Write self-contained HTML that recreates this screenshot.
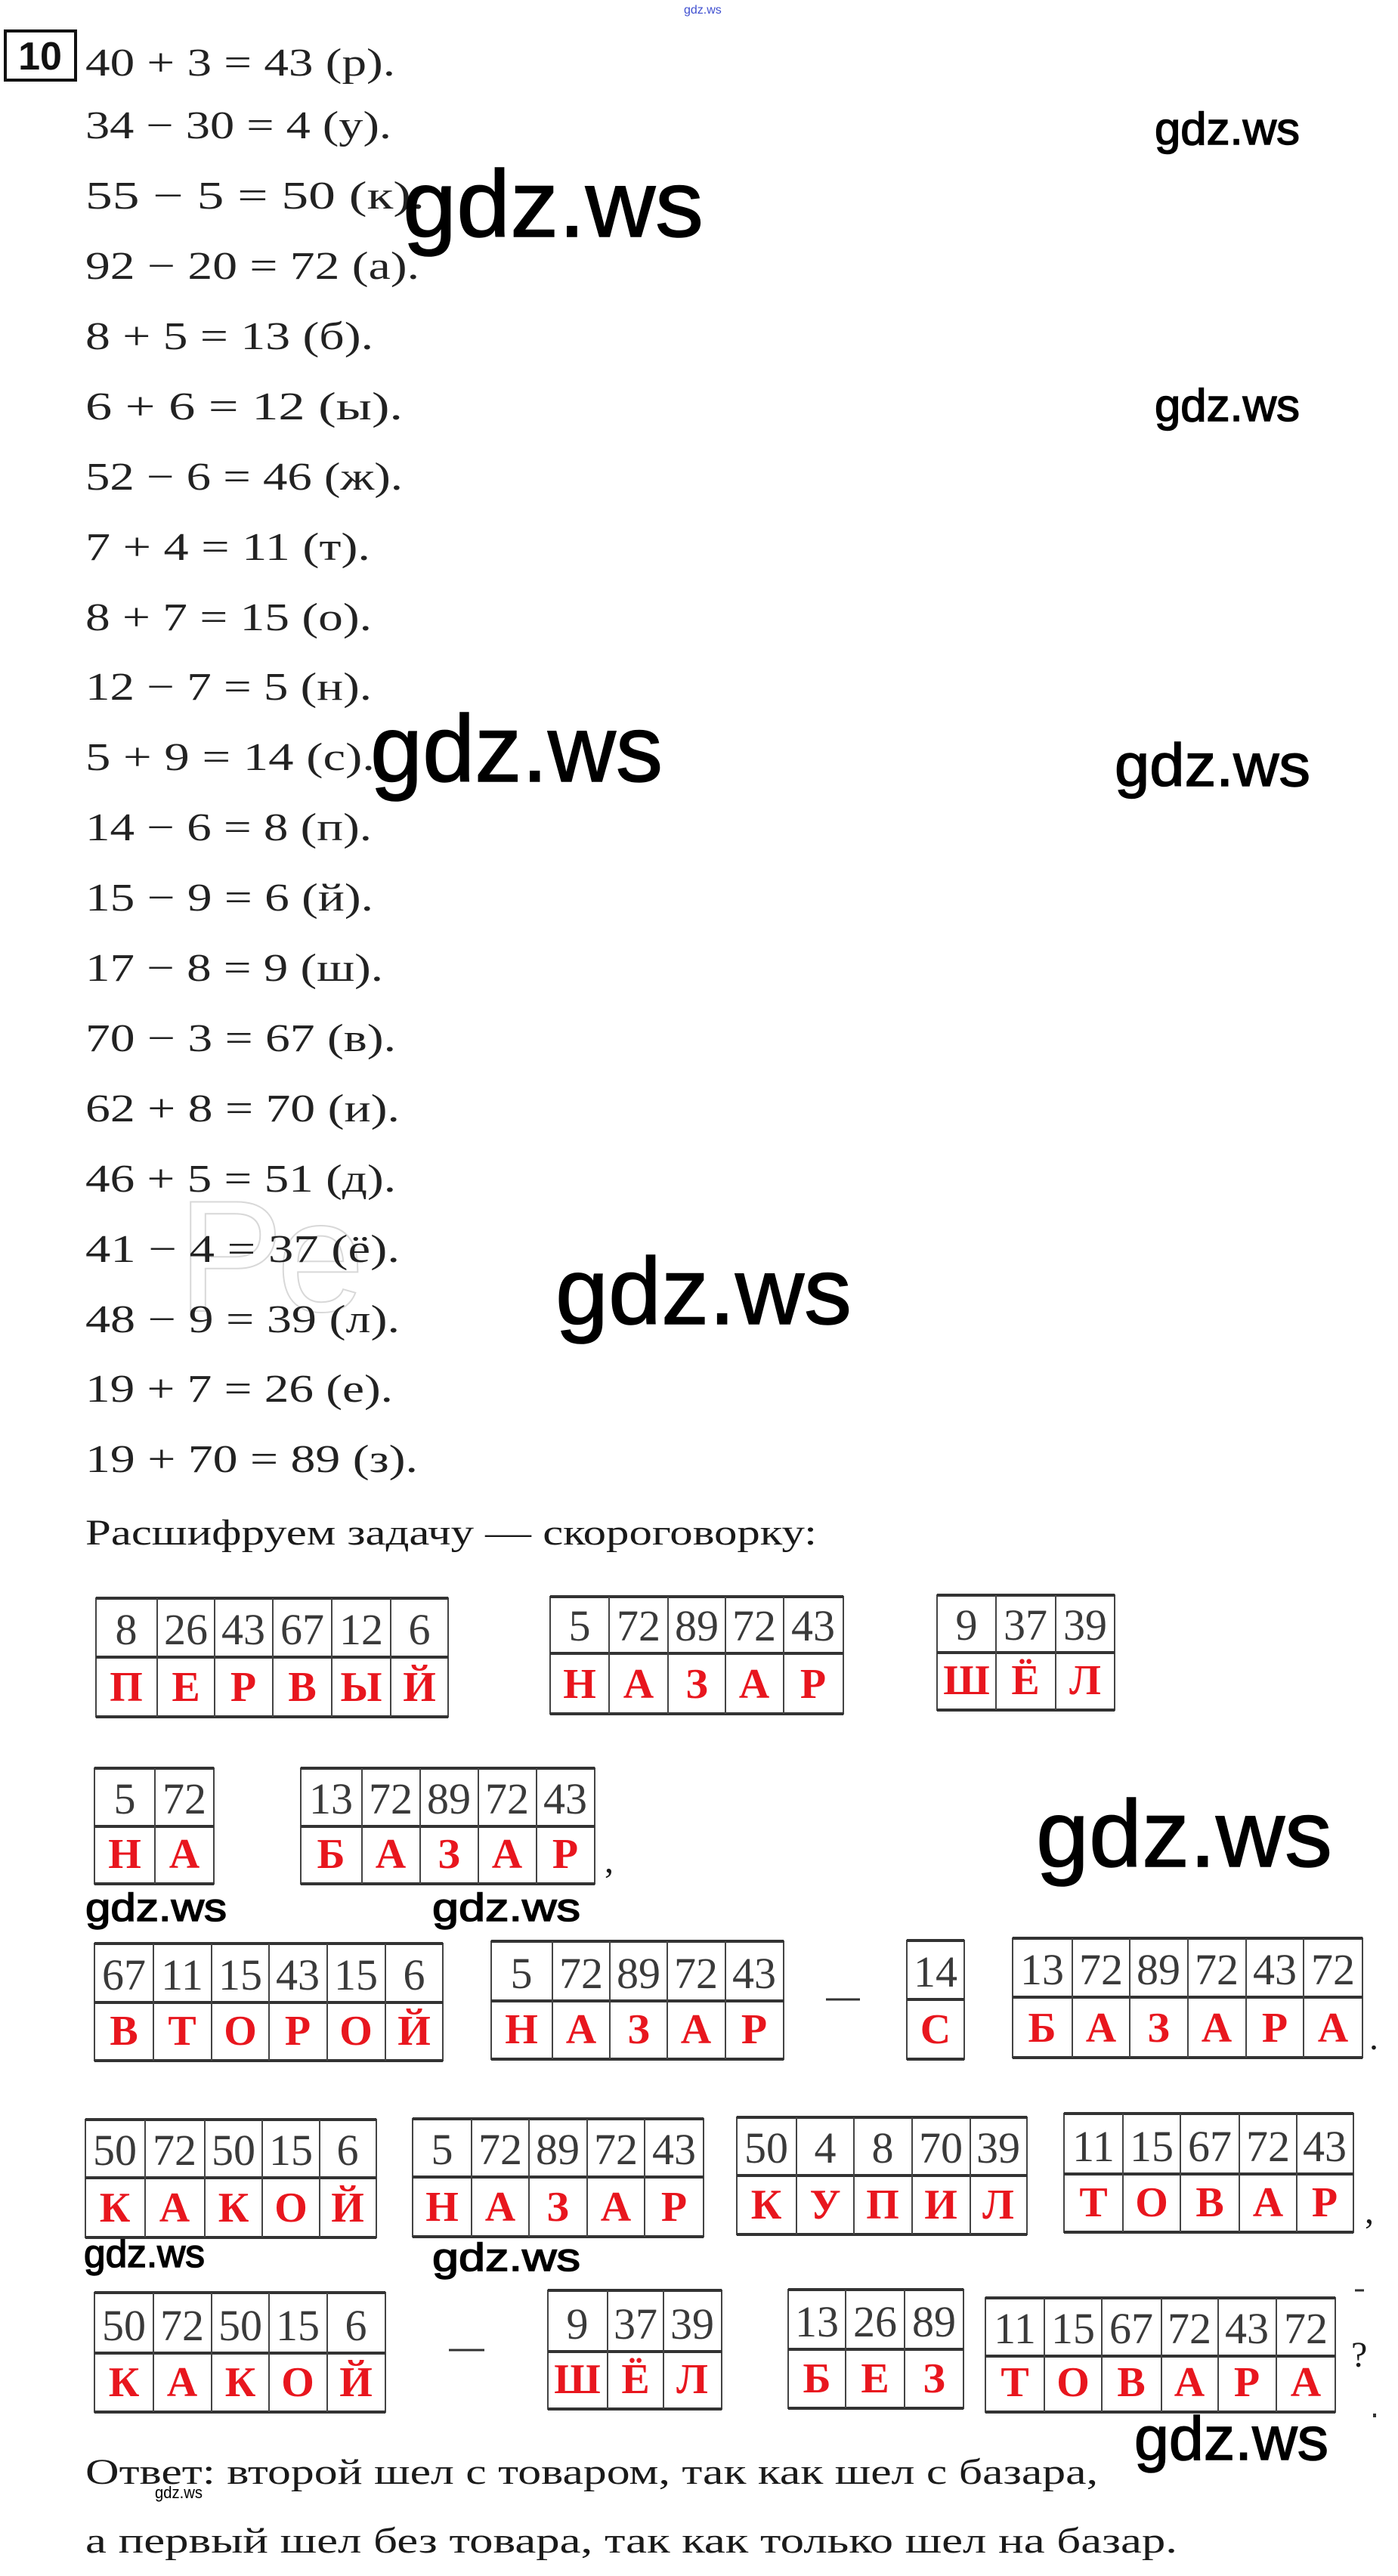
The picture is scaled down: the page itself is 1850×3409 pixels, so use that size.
<!DOCTYPE html>
<html><head><meta charset="utf-8"><style>
html,body{margin:0;padding:0;background:#fff}
svg{display:block}
.e{font-family:"Liberation Serif",serif;font-size:52px;fill:#222}
.s{font-family:"Liberation Serif",serif;font-size:48px;fill:#1a1a1a}
.w{font-family:"Liberation Sans",sans-serif;fill:#000;stroke:#000;stroke-width:1.5}
.n{font-family:"Liberation Serif",serif;font-size:58px;fill:#3a3a3a;text-anchor:middle}
.l{font-family:"Liberation Serif",serif;font-weight:bold;font-size:56px;fill:#e8161e;text-anchor:middle}
.h{stroke:#333;stroke-width:4}
.v{stroke:#444;stroke-width:2}
</style></head><body>
<svg width="1850" height="3409" viewBox="0 0 1850 3409" xmlns="http://www.w3.org/2000/svg">
<rect width="1850" height="3409" fill="#fff"/>
<text x="235" y="1735" font-family="Liberation Sans,sans-serif" font-size="210" fill="none" stroke="#d8d8d8" stroke-width="2">Ре</text>
<rect x="7" y="41" width="93" height="65" fill="none" stroke="#111" stroke-width="4"/>
<text x="53" y="92" text-anchor="middle" font-family="Liberation Sans,sans-serif" font-weight="bold" font-size="52" fill="#111">10</text>
<text class="e" x="113" y="100" textLength="410" lengthAdjust="spacingAndGlyphs">40 + 3 = 43 (р).</text>
<text class="e" x="113" y="183" textLength="405" lengthAdjust="spacingAndGlyphs">34 − 30 = 4 (у).</text>
<text class="e" x="113" y="276" textLength="449" lengthAdjust="spacingAndGlyphs">55 − 5 = 50 (к).</text>
<text class="e" x="113" y="369" textLength="442" lengthAdjust="spacingAndGlyphs">92 − 20 = 72 (а).</text>
<text class="e" x="113" y="462" textLength="381" lengthAdjust="spacingAndGlyphs">8 + 5 = 13 (б).</text>
<text class="e" x="113" y="555" textLength="420" lengthAdjust="spacingAndGlyphs">6 + 6 = 12 (ы).</text>
<text class="e" x="113" y="648" textLength="420" lengthAdjust="spacingAndGlyphs">52 − 6 = 46 (ж).</text>
<text class="e" x="113" y="741" textLength="377" lengthAdjust="spacingAndGlyphs">7 + 4 = 11 (т).</text>
<text class="e" x="113" y="834" textLength="379" lengthAdjust="spacingAndGlyphs">8 + 7 = 15 (о).</text>
<text class="e" x="113" y="926" textLength="379" lengthAdjust="spacingAndGlyphs">12 − 7 = 5 (н).</text>
<text class="e" x="113" y="1019" textLength="383" lengthAdjust="spacingAndGlyphs">5 + 9 = 14 (с).</text>
<text class="e" x="113" y="1112" textLength="379" lengthAdjust="spacingAndGlyphs">14 − 6 = 8 (п).</text>
<text class="e" x="113" y="1205" textLength="381" lengthAdjust="spacingAndGlyphs">15 − 9 = 6 (й).</text>
<text class="e" x="113" y="1298" textLength="394" lengthAdjust="spacingAndGlyphs">17 − 8 = 9 (ш).</text>
<text class="e" x="113" y="1391" textLength="411" lengthAdjust="spacingAndGlyphs">70 − 3 = 67 (в).</text>
<text class="e" x="113" y="1484" textLength="416" lengthAdjust="spacingAndGlyphs">62 + 8 = 70 (и).</text>
<text class="e" x="113" y="1577" textLength="411" lengthAdjust="spacingAndGlyphs">46 + 5 = 51 (д).</text>
<text class="e" x="113" y="1670" textLength="416" lengthAdjust="spacingAndGlyphs">41 − 4 = 37 (ё).</text>
<text class="e" x="113" y="1763" textLength="416" lengthAdjust="spacingAndGlyphs">48 − 9 = 39 (л).</text>
<text class="e" x="113" y="1855" textLength="407" lengthAdjust="spacingAndGlyphs">19 + 7 = 26 (е).</text>
<text class="e" x="113" y="1948" textLength="440" lengthAdjust="spacingAndGlyphs">19 + 70 = 89 (з).</text>
<text class="s" x="113" y="2044" textLength="968" lengthAdjust="spacingAndGlyphs">Расшифруем задачу — скороговорку:</text>
<text class="s" x="113" y="3287" textLength="1340" lengthAdjust="spacingAndGlyphs">Ответ: второй шел с товаром, так как шел с базара,</text>
<text class="s" x="113" y="3378" textLength="1445" lengthAdjust="spacingAndGlyphs">а первый шел без товара, так как только шел на базар.</text>

<text x="905" y="18" font-family="Liberation Sans,sans-serif" font-size="16" fill="#4050d0">gdz.ws</text>
<text class="w" x="533" y="313" font-size="125" stroke-width="3" textLength="398" lengthAdjust="spacingAndGlyphs">gdz.ws</text>
<text class="w" x="1528" y="191" font-size="60" textLength="192" lengthAdjust="spacingAndGlyphs">gdz.ws</text>
<text class="w" x="1528" y="557" font-size="60" textLength="192" lengthAdjust="spacingAndGlyphs">gdz.ws</text>
<text class="w" x="490" y="1034" font-size="125" stroke-width="3" textLength="387" lengthAdjust="spacingAndGlyphs">gdz.ws</text>
<text class="w" x="1475" y="1040" font-size="80" stroke-width="2" textLength="259" lengthAdjust="spacingAndGlyphs">gdz.ws</text>
<text class="w" x="735" y="1752" font-size="125" stroke-width="3" textLength="392" lengthAdjust="spacingAndGlyphs">gdz.ws</text>
<text class="w" x="1371" y="2470" font-size="125" stroke-width="3" textLength="392" lengthAdjust="spacingAndGlyphs">gdz.ws</text>
<text class="w" x="113" y="2542" font-size="52" textLength="187" lengthAdjust="spacingAndGlyphs">gdz.ws</text>
<text class="w" x="572" y="2542" font-size="52" textLength="196" lengthAdjust="spacingAndGlyphs">gdz.ws</text>
<text class="w" x="111" y="3000" font-size="52" textLength="160" lengthAdjust="spacingAndGlyphs">gdz.ws</text>
<text class="w" x="572" y="3005" font-size="52" textLength="196" lengthAdjust="spacingAndGlyphs">gdz.ws</text>
<text class="w" x="1501" y="3255" font-size="82" stroke-width="2" textLength="257" lengthAdjust="spacingAndGlyphs">gdz.ws</text>
<text x="205" y="3306" font-family="Liberation Sans,sans-serif" font-size="22" textLength="63" lengthAdjust="spacingAndGlyphs">gdz.ws</text>

<g><rect x="127" y="2115" width="466" height="157" fill="none" class="v"/>
<line class="h" x1="127" y1="2115" x2="593" y2="2115"/><line class="h" x1="127" y1="2193" x2="593" y2="2193"/><line class="h" x1="127" y1="2272" x2="593" y2="2272"/>
<line class="v" x1="208" y1="2115" x2="208" y2="2272"/><line class="v" x1="284" y1="2115" x2="284" y2="2272"/><line class="v" x1="361" y1="2115" x2="361" y2="2272"/><line class="v" x1="439" y1="2115" x2="439" y2="2272"/><line class="v" x1="517" y1="2115" x2="517" y2="2272"/>
<text class="n" x="167" y="2176">8</text><text class="n" x="246" y="2176">26</text><text class="n" x="322" y="2176">43</text><text class="n" x="400" y="2176">67</text><text class="n" x="478" y="2176">12</text><text class="n" x="555" y="2176">6</text>
<text class="l" x="167" y="2251">П</text><text class="l" x="246" y="2251">Е</text><text class="l" x="322" y="2251">Р</text><text class="l" x="400" y="2251">В</text><text class="l" x="478" y="2251">Ы</text><text class="l" x="555" y="2251">Й</text></g>
<g><rect x="728" y="2113" width="388" height="155" fill="none" class="v"/>
<line class="h" x1="728" y1="2113" x2="1116" y2="2113"/><line class="h" x1="728" y1="2188" x2="1116" y2="2188"/><line class="h" x1="728" y1="2268" x2="1116" y2="2268"/>
<line class="v" x1="806" y1="2113" x2="806" y2="2268"/><line class="v" x1="884" y1="2113" x2="884" y2="2268"/><line class="v" x1="960" y1="2113" x2="960" y2="2268"/><line class="v" x1="1037" y1="2113" x2="1037" y2="2268"/>
<text class="n" x="767" y="2171">5</text><text class="n" x="845" y="2171">72</text><text class="n" x="922" y="2171">89</text><text class="n" x="998" y="2171">72</text><text class="n" x="1076" y="2171">43</text>
<text class="l" x="767" y="2247">Н</text><text class="l" x="845" y="2247">А</text><text class="l" x="922" y="2247">З</text><text class="l" x="998" y="2247">А</text><text class="l" x="1076" y="2247">Р</text></g>
<g><rect x="1240" y="2111" width="235" height="152" fill="none" class="v"/>
<line class="h" x1="1240" y1="2111" x2="1475" y2="2111"/><line class="h" x1="1240" y1="2187" x2="1475" y2="2187"/><line class="h" x1="1240" y1="2263" x2="1475" y2="2263"/>
<line class="v" x1="1318" y1="2111" x2="1318" y2="2263"/><line class="v" x1="1397" y1="2111" x2="1397" y2="2263"/>
<text class="n" x="1279" y="2170">9</text><text class="n" x="1357" y="2170">37</text><text class="n" x="1436" y="2170">39</text>
<text class="l" x="1279" y="2242">Ш</text><text class="l" x="1357" y="2242">Ё</text><text class="l" x="1436" y="2242">Л</text></g>
<g><rect x="125" y="2340" width="158" height="153" fill="none" class="v"/>
<line class="h" x1="125" y1="2340" x2="283" y2="2340"/><line class="h" x1="125" y1="2417" x2="283" y2="2417"/><line class="h" x1="125" y1="2493" x2="283" y2="2493"/>
<line class="v" x1="205" y1="2340" x2="205" y2="2493"/>
<text class="n" x="165" y="2400">5</text><text class="n" x="244" y="2400">72</text>
<text class="l" x="165" y="2472">Н</text><text class="l" x="244" y="2472">А</text></g>
<g><rect x="398" y="2340" width="389" height="153" fill="none" class="v"/>
<line class="h" x1="398" y1="2340" x2="787" y2="2340"/><line class="h" x1="398" y1="2417" x2="787" y2="2417"/><line class="h" x1="398" y1="2493" x2="787" y2="2493"/>
<line class="v" x1="479" y1="2340" x2="479" y2="2493"/><line class="v" x1="556" y1="2340" x2="556" y2="2493"/><line class="v" x1="633" y1="2340" x2="633" y2="2493"/><line class="v" x1="710" y1="2340" x2="710" y2="2493"/>
<text class="n" x="438" y="2400">13</text><text class="n" x="517" y="2400">72</text><text class="n" x="594" y="2400">89</text><text class="n" x="671" y="2400">72</text><text class="n" x="748" y="2400">43</text>
<text class="l" x="438" y="2472">Б</text><text class="l" x="517" y="2472">А</text><text class="l" x="594" y="2472">З</text><text class="l" x="671" y="2472">А</text><text class="l" x="748" y="2472">Р</text></g>
<text class="s" x="800" y="2478" font-size="50">,</text>
<g><rect x="125" y="2572" width="461" height="155" fill="none" class="v"/>
<line class="h" x1="125" y1="2572" x2="586" y2="2572"/><line class="h" x1="125" y1="2650" x2="586" y2="2650"/><line class="h" x1="125" y1="2727" x2="586" y2="2727"/>
<line class="v" x1="203" y1="2572" x2="203" y2="2727"/><line class="v" x1="280" y1="2572" x2="280" y2="2727"/><line class="v" x1="356" y1="2572" x2="356" y2="2727"/><line class="v" x1="433" y1="2572" x2="433" y2="2727"/><line class="v" x1="510" y1="2572" x2="510" y2="2727"/>
<text class="n" x="164" y="2633">67</text><text class="n" x="241" y="2633">11</text><text class="n" x="318" y="2633">15</text><text class="n" x="394" y="2633">43</text><text class="n" x="471" y="2633">15</text><text class="n" x="548" y="2633">6</text>
<text class="l" x="164" y="2706">В</text><text class="l" x="241" y="2706">Т</text><text class="l" x="318" y="2706">О</text><text class="l" x="394" y="2706">Р</text><text class="l" x="471" y="2706">О</text><text class="l" x="548" y="2706">Й</text></g>
<g><rect x="650" y="2569" width="387" height="156" fill="none" class="v"/>
<line class="h" x1="650" y1="2569" x2="1037" y2="2569"/><line class="h" x1="650" y1="2648" x2="1037" y2="2648"/><line class="h" x1="650" y1="2725" x2="1037" y2="2725"/>
<line class="v" x1="731" y1="2569" x2="731" y2="2725"/><line class="v" x1="807" y1="2569" x2="807" y2="2725"/><line class="v" x1="883" y1="2569" x2="883" y2="2725"/><line class="v" x1="960" y1="2569" x2="960" y2="2725"/>
<text class="n" x="690" y="2631">5</text><text class="n" x="769" y="2631">72</text><text class="n" x="845" y="2631">89</text><text class="n" x="921" y="2631">72</text><text class="n" x="998" y="2631">43</text>
<text class="l" x="690" y="2704">Н</text><text class="l" x="769" y="2704">А</text><text class="l" x="845" y="2704">З</text><text class="l" x="921" y="2704">А</text><text class="l" x="998" y="2704">Р</text></g>
<line x1="1093" y1="2646" x2="1138" y2="2646" stroke="#333" stroke-width="3"/>
<g><rect x="1200" y="2568" width="76" height="157" fill="none" class="v"/>
<line class="h" x1="1200" y1="2568" x2="1276" y2="2568"/><line class="h" x1="1200" y1="2646" x2="1276" y2="2646"/><line class="h" x1="1200" y1="2725" x2="1276" y2="2725"/>
<text class="n" x="1238" y="2629">14</text><text class="l" x="1238" y="2704">С</text></g>
<g><rect x="1340" y="2565" width="463" height="158" fill="none" class="v"/>
<line class="h" x1="1340" y1="2565" x2="1803" y2="2565"/><line class="h" x1="1340" y1="2643" x2="1803" y2="2643"/><line class="h" x1="1340" y1="2723" x2="1803" y2="2723"/>
<line class="v" x1="1419" y1="2565" x2="1419" y2="2723"/><line class="v" x1="1495" y1="2565" x2="1495" y2="2723"/><line class="v" x1="1572" y1="2565" x2="1572" y2="2723"/><line class="v" x1="1649" y1="2565" x2="1649" y2="2723"/><line class="v" x1="1725" y1="2565" x2="1725" y2="2723"/>
<text class="n" x="1379" y="2626">13</text><text class="n" x="1457" y="2626">72</text><text class="n" x="1533" y="2626">89</text><text class="n" x="1610" y="2626">72</text><text class="n" x="1687" y="2626">43</text><text class="n" x="1764" y="2626">72</text>
<text class="l" x="1379" y="2702">Б</text><text class="l" x="1457" y="2702">А</text><text class="l" x="1533" y="2702">З</text><text class="l" x="1610" y="2702">А</text><text class="l" x="1687" y="2702">Р</text><text class="l" x="1764" y="2702">А</text></g>
<text class="s" x="1812" y="2712">.</text>
<g><rect x="113" y="2805" width="385" height="156" fill="none" class="v"/>
<line class="h" x1="113" y1="2805" x2="498" y2="2805"/><line class="h" x1="113" y1="2882" x2="498" y2="2882"/><line class="h" x1="113" y1="2961" x2="498" y2="2961"/>
<line class="v" x1="192" y1="2805" x2="192" y2="2961"/><line class="v" x1="271" y1="2805" x2="271" y2="2961"/><line class="v" x1="347" y1="2805" x2="347" y2="2961"/><line class="v" x1="423" y1="2805" x2="423" y2="2961"/>
<text class="n" x="152" y="2865">50</text><text class="n" x="231" y="2865">72</text><text class="n" x="309" y="2865">50</text><text class="n" x="385" y="2865">15</text><text class="n" x="460" y="2865">6</text>
<text class="l" x="152" y="2940">К</text><text class="l" x="231" y="2940">А</text><text class="l" x="309" y="2940">К</text><text class="l" x="385" y="2940">О</text><text class="l" x="460" y="2940">Й</text></g>
<g><rect x="546" y="2804" width="385" height="156" fill="none" class="v"/>
<line class="h" x1="546" y1="2804" x2="931" y2="2804"/><line class="h" x1="546" y1="2881" x2="931" y2="2881"/><line class="h" x1="546" y1="2960" x2="931" y2="2960"/>
<line class="v" x1="624" y1="2804" x2="624" y2="2960"/><line class="v" x1="700" y1="2804" x2="700" y2="2960"/><line class="v" x1="777" y1="2804" x2="777" y2="2960"/><line class="v" x1="853" y1="2804" x2="853" y2="2960"/>
<text class="n" x="585" y="2864">5</text><text class="n" x="662" y="2864">72</text><text class="n" x="738" y="2864">89</text><text class="n" x="815" y="2864">72</text><text class="n" x="892" y="2864">43</text>
<text class="l" x="585" y="2939">Н</text><text class="l" x="662" y="2939">А</text><text class="l" x="738" y="2939">З</text><text class="l" x="815" y="2939">А</text><text class="l" x="892" y="2939">Р</text></g>
<g><rect x="975" y="2802" width="384" height="155" fill="none" class="v"/>
<line class="h" x1="975" y1="2802" x2="1359" y2="2802"/><line class="h" x1="975" y1="2879" x2="1359" y2="2879"/><line class="h" x1="975" y1="2957" x2="1359" y2="2957"/>
<line class="v" x1="1054" y1="2802" x2="1054" y2="2957"/><line class="v" x1="1130" y1="2802" x2="1130" y2="2957"/><line class="v" x1="1207" y1="2802" x2="1207" y2="2957"/><line class="v" x1="1284" y1="2802" x2="1284" y2="2957"/>
<text class="n" x="1014" y="2862">50</text><text class="n" x="1092" y="2862">4</text><text class="n" x="1168" y="2862">8</text><text class="n" x="1245" y="2862">70</text><text class="n" x="1321" y="2862">39</text>
<text class="l" x="1014" y="2936">К</text><text class="l" x="1092" y="2936">У</text><text class="l" x="1168" y="2936">П</text><text class="l" x="1245" y="2936">И</text><text class="l" x="1321" y="2936">Л</text></g>
<g><rect x="1408" y="2797" width="383" height="157" fill="none" class="v"/>
<line class="h" x1="1408" y1="2797" x2="1791" y2="2797"/><line class="h" x1="1408" y1="2877" x2="1791" y2="2877"/><line class="h" x1="1408" y1="2954" x2="1791" y2="2954"/>
<line class="v" x1="1486" y1="2797" x2="1486" y2="2954"/><line class="v" x1="1562" y1="2797" x2="1562" y2="2954"/><line class="v" x1="1640" y1="2797" x2="1640" y2="2954"/><line class="v" x1="1716" y1="2797" x2="1716" y2="2954"/>
<text class="n" x="1447" y="2860">11</text><text class="n" x="1524" y="2860">15</text><text class="n" x="1601" y="2860">67</text><text class="n" x="1678" y="2860">72</text><text class="n" x="1753" y="2860">43</text>
<text class="l" x="1447" y="2933">Т</text><text class="l" x="1524" y="2933">О</text><text class="l" x="1601" y="2933">В</text><text class="l" x="1678" y="2933">А</text><text class="l" x="1753" y="2933">Р</text></g>
<text class="s" x="1806" y="2942">,</text>
<g><rect x="125" y="3034" width="385" height="158" fill="none" class="v"/>
<line class="h" x1="125" y1="3034" x2="510" y2="3034"/><line class="h" x1="125" y1="3114" x2="510" y2="3114"/><line class="h" x1="125" y1="3192" x2="510" y2="3192"/>
<line class="v" x1="203" y1="3034" x2="203" y2="3192"/><line class="v" x1="280" y1="3034" x2="280" y2="3192"/><line class="v" x1="356" y1="3034" x2="356" y2="3192"/><line class="v" x1="433" y1="3034" x2="433" y2="3192"/>
<text class="n" x="164" y="3097">50</text><text class="n" x="241" y="3097">72</text><text class="n" x="318" y="3097">50</text><text class="n" x="394" y="3097">15</text><text class="n" x="471" y="3097">6</text>
<text class="l" x="164" y="3171">К</text><text class="l" x="241" y="3171">А</text><text class="l" x="318" y="3171">К</text><text class="l" x="394" y="3171">О</text><text class="l" x="471" y="3171">Й</text></g>
<line x1="594" y1="3110" x2="641" y2="3110" stroke="#333" stroke-width="3"/>
<g><rect x="725" y="3031" width="230" height="157" fill="none" class="v"/>
<line class="h" x1="725" y1="3031" x2="955" y2="3031"/><line class="h" x1="725" y1="3112" x2="955" y2="3112"/><line class="h" x1="725" y1="3188" x2="955" y2="3188"/>
<line class="v" x1="804" y1="3031" x2="804" y2="3188"/><line class="v" x1="878" y1="3031" x2="878" y2="3188"/>
<text class="n" x="764" y="3095">9</text><text class="n" x="841" y="3095">37</text><text class="n" x="916" y="3095">39</text>
<text class="l" x="764" y="3167">Ш</text><text class="l" x="841" y="3167">Ё</text><text class="l" x="916" y="3167">Л</text></g>
<g><rect x="1043" y="3030" width="232" height="157" fill="none" class="v"/>
<line class="h" x1="1043" y1="3030" x2="1275" y2="3030"/><line class="h" x1="1043" y1="3109" x2="1275" y2="3109"/><line class="h" x1="1043" y1="3187" x2="1275" y2="3187"/>
<line class="v" x1="1119" y1="3030" x2="1119" y2="3187"/><line class="v" x1="1197" y1="3030" x2="1197" y2="3187"/>
<text class="n" x="1081" y="3092">13</text><text class="n" x="1158" y="3092">26</text><text class="n" x="1236" y="3092">89</text>
<text class="l" x="1081" y="3166">Б</text><text class="l" x="1158" y="3166">Е</text><text class="l" x="1236" y="3166">З</text></g>
<g><rect x="1304" y="3041" width="463" height="151" fill="none" class="v"/>
<line class="h" x1="1304" y1="3041" x2="1767" y2="3041"/><line class="h" x1="1304" y1="3118" x2="1767" y2="3118"/><line class="h" x1="1304" y1="3192" x2="1767" y2="3192"/>
<line class="v" x1="1382" y1="3041" x2="1382" y2="3192"/><line class="v" x1="1458" y1="3041" x2="1458" y2="3192"/><line class="v" x1="1537" y1="3041" x2="1537" y2="3192"/><line class="v" x1="1612" y1="3041" x2="1612" y2="3192"/><line class="v" x1="1689" y1="3041" x2="1689" y2="3192"/>
<text class="n" x="1343" y="3101">11</text><text class="n" x="1420" y="3101">15</text><text class="n" x="1497" y="3101">67</text><text class="n" x="1574" y="3101">72</text><text class="n" x="1650" y="3101">43</text><text class="n" x="1728" y="3101">72</text>
<text class="l" x="1343" y="3171">Т</text><text class="l" x="1420" y="3171">О</text><text class="l" x="1497" y="3171">В</text><text class="l" x="1574" y="3171">А</text><text class="l" x="1650" y="3171">Р</text><text class="l" x="1728" y="3171">А</text></g>
<text class="s" x="1788" y="3132" fill="#555">?</text>
<line x1="1793" y1="3031" x2="1805" y2="3031" stroke="#333" stroke-width="3"/>
<rect x="1817" y="3194" width="4" height="5" fill="#333"/>
</svg>
</body></html>
